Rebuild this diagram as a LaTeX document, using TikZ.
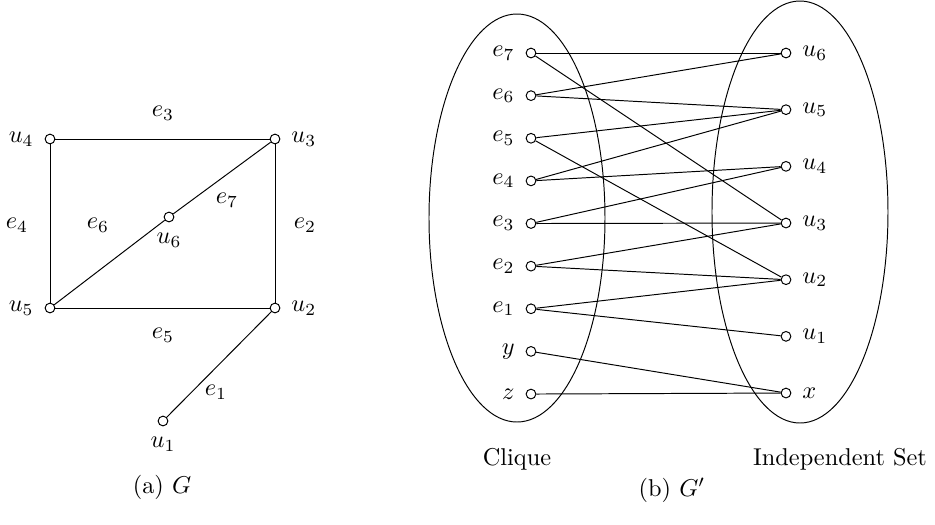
\documentclass[tikz,border=0pt]{standalone}
\usetikzlibrary{positioning}
\tikzset{vtx/.style={circle, draw, fill=white, inner sep=0pt, minimum size=4pt},
  lbl/.style={inner sep=1pt}}

\begin{document}
\begin{tikzpicture}[x=0.411pt, y=-0.411pt, label distance=1pt]
  \useasboundingbox (0,0) rectangle (935,524);
  % (a) the graph G
  \node[vtx, label=left:$u_4$] (u4) at (50,139) {};
  \node[vtx, label=right:$u_3$] (u3) at (275,139) {};
  \node[vtx, label=left:$u_5$] (u5) at (50,308) {};
  \node[vtx, label=right:$u_2$] (u2) at (275,308) {};
  \node[vtx, label=below:$u_6$] (u6) at (169,217) {};
  \node[vtx, label=below:$u_1$] (u1) at (163,421) {};
  \draw (u4) -- (u3) -- (u2) -- (u5) -- (u4);
  \draw (u5) -- (u6) -- (u3);
  \draw (u2) -- (u1);
  % edge names
  \node[lbl] (l3) at (163,113) {$e_3$};
  \node[lbl] (l4) at (17,225) {$e_4$};
  \node[lbl] (l6) at (98,225) {$e_6$};
  \node[lbl] (l7) at (227,200) {$e_7$};
  \node[lbl] (l2) at (305,225) {$e_2$};
  \node[lbl] (l5) at (163,335) {$e_5$};
  \node[lbl] (l1) at (216,392) {$e_1$};
  \node (capa) at (162,487) {(a) $G$};

  % (b) the graph G'
  \draw (517,218) ellipse [x radius=88, y radius=204];
  \draw (800,212) ellipse [x radius=88, y radius=211];
  \foreach \n/\t [count=\k from 0] in {e7/e_7,e6/e_6,e5/e_5,e4/e_4,e3/e_3,e2/e_2,e1/e_1,y/y,z/z}
    \node[vtx, label=left:$\t$] (c\n) at (531,53+42.63*\k) {};
  \foreach \n/\t [count=\k from 0] in {u6/u_6,u5/u_5,u4/u_4,u3/u_3,u2/u_2,u1/u_1,x/x}
    \node[vtx, label=right:$\t$] (i\n) at (786,53+56.67*\k) {};
  \foreach \a/\b in {e7/u6,e7/u3,e6/u6,e6/u5,e5/u5,e5/u2,e4/u5,e4/u4,
                     e3/u4,e3/u3,e2/u3,e2/u2,e1/u2,e1/u1,y/x,z/x}
    \draw (c\a) -- (i\b);
  \node (clq) at (517,459) {Clique};
  \node (ind) at (840,459) {Independent Set};
  \node (capb) at (672,490) {(b) $G'$};
\end{tikzpicture}
\end{document}
